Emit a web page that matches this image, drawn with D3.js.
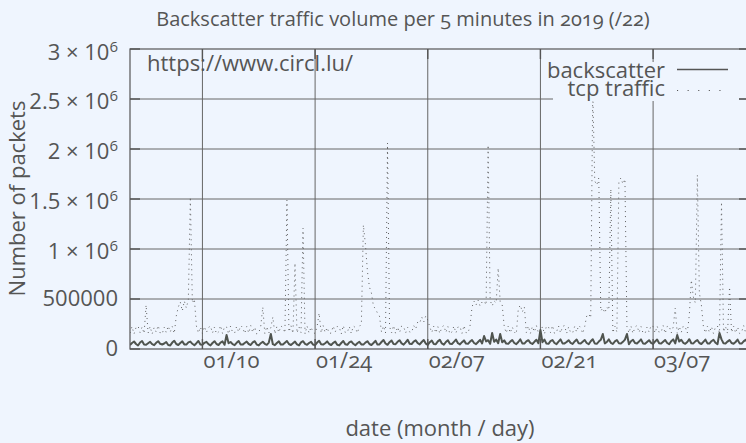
<!DOCTYPE html>
<html>
<head>
<meta charset="utf-8">
<title>Backscatter traffic volume</title>
<script src="https://cdn.jsdelivr.net/npm/d3@7"></script>
<style>
  body { margin: 0; background: #eff5fe; }
  svg text { font-family: "Open Sans", sans-serif; fill: #555; }
  .onum { font-variant-numeric: oldstyle-nums; font-feature-settings: "onum" 1; }
</style>
</head>
<body>
<svg id="chart" width="746" height="443"></svg>
<script>
// one value every 6 hours from 2019-01-01 00:00 UTC, in thousands of packets
var samplesPerDay = 4;
var tcpTraffic = [
  160,225,150,215, 230,165,220,155, 440,160,225,150, 215,170,235,160, 150,220,165,230,
  170,225,155,330, 420,470,380,480, 410,495,1520,460, 500,230,160,220, 155,225,165,215,
  230,160,220,150, 170,235,155,225, 220,150,230,165, 160,225,170,235, 215,155,225,160,
  235,165,220,150, 160,230,420,155, 225,160,215,320, 150,225,165,230, 215,160,1490,170,
  235,155,860,160, 220,165,1210,150, 230,160,220,165, 155,225,360,160, 235,165,215,155,
  160,230,170,225, 220,150,235,165, 165,225,155,230, 215,160,225,250, 1240,1050,780,620,
  560,430,400,360, 330,170,230,160, 2060,225,160,235, 155,220,165,230, 225,160,215,170,
  165,235,200,270, 260,320,270,330, 290,220,165,230, 160,225,155,220, 235,165,225,150,
  170,230,160,220, 225,155,235,165, 160,230,420,480, 440,490,430,470, 480,440,2040,490,
  430,480,460,810, 470,440,225,160, 230,160,220,170, 150,400,440,370, 420,165,230,155,
  225,170,235,160, 160,225,150,230, 220,165,235,155, 170,230,160,225, 235,155,220,165,
  160,225,170,235, 215,155,225,330, 350,310,2600,1680, 1640,1710,380,410, 360,420,390,1600,
  160,230,170,1680, 1710,1650,1700,225, 160,230,155,220, 235,165,225,160, 155,220,170,235,
  225,160,230,165, 170,235,155,225, 230,160,220,410, 155,225,165,230, 220,160,340,690,
  520,460,1740,560, 440,225,160,230, 165,225,155,220, 230,160,1470,170, 225,155,620,165,
  230,160,220,155, 170,235,160,225
];
var backscatter = [
  40,60,75,50, 35,65,80,45, 42,58,72,48, 38,62,78,52, 45,55,70,40,
  36,64,82,50, 40,60,76,46, 44,66,74,52, 38,58,80,44, 42,62,72,48,
  36,60,78,50, 40,64,76,42, 140,58,70,48, 38,62,80,46, 44,60,74,50,
  40,66,78,44, 36,58,72,52, 42,64,150,48, 38,60,76,44, 44,62,80,50,
  40,58,74,46, 36,66,78,52, 42,60,72,44, 38,64,82,48, 44,58,76,50,
  40,62,74,42, 36,60,80,48, 42,66,76,52, 38,58,72,46, 44,64,78,50,
  40,60,82,44, 46,70,90,55, 42,68,85,50, 48,72,88,56, 44,66,92,52,
  50,74,86,58, 46,70,90,54, 42,68,84,50, 48,76,92,56, 44,70,88,52,
  50,72,94,58, 46,68,86,54, 52,74,90,60, 48,70,92,56, 130,76,88,52,
  160,72,94,58, 150,68,86,54, 52,74,90,60, 48,70,96,56, 54,76,88,62,
  50,72,92,58, 190,68,94,54, 52,78,90,60, 48,74,96,56, 56,70,88,62,
  50,76,94,58, 54,72,90,60, 48,78,98,56, 52,74,92,150, 56,70,96,62,
  50,76,90,58, 54,72,94,150, 48,78,92,60, 56,74,96,56, 52,70,88,62,
  50,76,94,58, 54,72,90,60, 48,78,96,56, 140,74,92,62, 52,70,98,58,
  56,76,90,60, 50,72,94,56, 54,78,92,62, 48,160,96,58, 56,74,90,60,
  52,70,94,56, 54,76,92,62
];
var yTickValues = [0, 500000, 1000000, 1500000, 2000000, 2500000, 3000000];
var yTickMantissa = ["0", "500000", "1", "1.5", "2", "2.5", "3"];
var xTickDates = ["2019-01-10", "2019-01-24", "2019-02-07", "2019-02-21", "2019-03-07"];
var xTickLabels = ["01/10", "01/24", "02/07", "02/21", "03/07"];
var seriesNames = ["backscatter", "tcp traffic"];

var bg = "#eff5fe";
var svg = d3.select("#chart");
// plot frame (the right border falls just outside the window)
var pL = 130, pR = 749, pT = 49, pB = 349;

var start = new Date(Date.UTC(2019, 0, 1));
var x = d3.scaleUtc()
  .domain([start, new Date(Date.UTC(2019, 2, 18, 22))])
  .range([pL, pR]);
var y = d3.scaleLinear().domain([0, 3000000]).range([pB, pT]);

function sampleTime(i) {
  return d3.utcHour.offset(start, i * 24 / samplesPerDay);
}

svg.append("rect").attr("width", 746).attr("height", 443).attr("fill", bg);

svg.append("clipPath").attr("id", "plot")
  .append("rect").attr("x", pL).attr("y", pT)
  .attr("width", pR - pL).attr("height", pB - pT);

// grid
var xTicks = xTickDates.map(function(d) { return new Date(d + "T00:00:00Z"); });
svg.append("g").selectAll("line").data(yTickValues.slice(1, -1)).enter().append("line")
  .attr("x1", pL).attr("x2", pR)
  .attr("y1", function(d) { return y(d); }).attr("y2", function(d) { return y(d); })
  .attr("stroke", "#666").attr("stroke-width", 1);
svg.append("g").selectAll("line").data(xTicks).enter().append("line")
  .attr("x1", function(d) { return x(d); }).attr("x2", function(d) { return x(d); })
  .attr("y1", pT).attr("y2", pB)
  .attr("stroke", "#666").attr("stroke-width", 1);

// data
var plot = svg.append("g").attr("clip-path", "url(#plot)");
var seriesLine = d3.line()
  .x(function(d, i) { return x(sampleTime(i)); })
  .y(function(d) { return y(d * 1000); });
plot.append("path").datum(tcpTraffic)
  .attr("d", seriesLine)
  .attr("fill", "none").attr("stroke", "#606060")
  .attr("stroke-width", 1).attr("stroke-dasharray", "1 4");
plot.append("path").datum(backscatter)
  .attr("d", seriesLine)
  .attr("fill", "none").attr("stroke", "#4f544f")
  .attr("stroke-width", 2).attr("stroke-linejoin", "round");

// border and tics
svg.append("rect").attr("x", pL).attr("y", pT)
  .attr("width", pR - pL).attr("height", pB - pT)
  .attr("fill", "none").attr("stroke", "#555").attr("stroke-width", 1.2);
var tics = svg.append("g").attr("stroke", "#555").attr("stroke-width", 1.4);
yTickValues.forEach(function(v) {
  tics.append("line").attr("x1", pL).attr("x2", pL + 10).attr("y1", y(v)).attr("y2", y(v));
  tics.append("line").attr("x1", pR - 10).attr("x2", pR).attr("y1", y(v)).attr("y2", y(v));
});
xTicks.forEach(function(d) {
  tics.append("line").attr("x1", x(d)).attr("x2", x(d)).attr("y1", pB).attr("y2", pB - 10);
  tics.append("line").attr("x1", x(d)).attr("x2", x(d)).attr("y1", pT).attr("y2", pT + 10);
});

// y tick labels
yTickValues.forEach(function(v, i) {
  var m = yTickMantissa[i];
  var sci = v >= 1000000;
  var t = svg.append("text")
    .attr("x", 118).attr("y", y(v) + (sci ? (v === 3000000 ? 11 : 10) : 7))
    .attr("text-anchor", "end").attr("font-size", 22);
  if (sci) {
    t.append("tspan").text(m + " × 10");
    t.append("tspan").attr("dy", -8).attr("font-size", 15).text("6");
  } else {
    t.text(m);
  }
});

// x tick labels
svg.append("g").selectAll("text").data(xTicks).enter().append("text")
  .attr("class", "onum")
  .attr("x", function(d) { return x(d) + 1; }).attr("y", 368)
  .attr("font-size", 22)
  .text(function(d, i) { return xTickLabels[i]; });

// title and axis labels
svg.append("text").attr("class", "onum")
  .attr("x", 403).attr("y", 26).attr("text-anchor", "middle").attr("font-size", 20)
  .text("Backscatter traffic volume per 5 minutes in 2019 (/22)");
svg.append("text")
  .attr("transform", "translate(25,198.5) rotate(-90)")
  .attr("text-anchor", "middle").attr("font-size", 22)
  .text("Number of packets");
svg.append("text")
  .attr("x", 440).attr("y", 436).attr("text-anchor", "middle").attr("font-size", 22)
  .text("date (month / day)");
svg.append("text")
  .attr("x", 147).attr("y", 71).attr("font-size", 22)
  .text("https://www.circl.lu/");

// legend (opaque box, as in the original)
svg.append("rect").attr("x", 553).attr("y", 62).attr("width", 186).attr("height", 39)
  .attr("fill", bg);
var legendY = [78, 96];
var sampleY = [69.5, 90.5];
seriesNames.forEach(function(name, i) {
  svg.append("text").attr("x", 665).attr("y", legendY[i])
    .attr("text-anchor", "end").attr("font-size", 22).text(name);
  svg.append("line")
    .attr("x1", 677).attr("x2", 728)
    .attr("y1", sampleY[i]).attr("y2", sampleY[i])
    .attr("stroke", "#555")
    .attr("stroke-width", i === 0 ? 1.3 : 1.1)
    .attr("stroke-dasharray", i === 0 ? null : "1.1 9.5");
});
</script>
</body>
</html>
